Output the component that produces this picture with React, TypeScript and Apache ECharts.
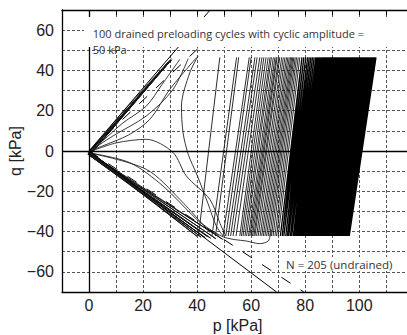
import React, { useEffect, useRef } from "react";
import * as echarts from "echarts";

// ---- axes ----
const xLabelTicks = [0, 20, 40, 60, 80, 100];
const yLabelTicks = [-60, -40, -20, 0, 20, 40, 60];

// ---- drained preloading cycles (turning points) ----
const drainedOrigin = [[0.0, -1.0], [0.4, -0.4], [-0.4, -1.6], [0.2, -2.2], [0.6, -1.2], [-0.2, -0.6], [0.3, -1.8]];
const drainedPeak = [[29.2, 44.0], [29.6, 44.4], [30.0, 44.8], [30.3, 45.0], [29.4, 44.2], [30.6, 45.3], [29.9, 44.6]];
const drainedTrough = [[40.0, -42.4], [41.5, -42.8], [43.0, -43.0], [45.0, -43.3], [47.0, -43.6], [49.4, -43.8], [44.0, -42.6]];

// ---- first undrained cycles (curved paths) ----
const fanUp1 = [[30.5, 46.0], [22.0, 33.5], [13.0, 20.0], [5.0, 7.5], [0.3, 0.0]];
const fanUp2 = [[33.6, 45.5], [27.0, 33.0], [21.2, 22.3], [12.6, 14.0], [5.0, 5.0], [0.3, 0.0]];
const fanUp3 = [[36.7, 45.9], [31.1, 30.6], [21.2, 17.4], [8.9, 7.5], [0.3, 0.0]];
const fanUp4 = [[39.8, 46.4], [29.9, 30.6], [22.5, 15.7], [14.7, 8.0], [5.0, 2.5], [0.3, 0.0]];
const fanLow1 = [[0.0, -0.5], [10.0, 4.0], [21.2, 5.8], [31.0, -0.6], [36.0, -12.4], [44.7, -24.0], [48.5, -36.0], [50.5, -42.0]];
const wavyPath = [[40.4, 47.2], [37.3, 38.9], [34.2, 22.3], [34.8, 9.1], [36.7, -1.6], [40.0, -12.0], [44.0, -26.0], [47.0, -37.0], [49.6, -42.2]];
const fanDown1 = [[0.3, -1.0], [21.2, -9.1], [33.6, -24.0], [44.7, -40.5]];
const fanDown2 = [[0.3, -1.0], [15.1, -5.8], [27.4, -17.4], [39.8, -33.9], [44.7, -38.9], [48.0, -42.0]];
const bottomLoop = [[44.7, -38.9], [49.6, -42.6], [54.0, -44.0], [58.3, -44.7], [63.2, -46.0], [66.3, -44.7], [67.0, -42.2], [67.6, -39.0]];

// ---- undrained cycles: p at peak (q = qPeak) and trough (q = qTrough) ----
const qPeak = 46.5;
const qTrough = -42.2;
const sparseTopP = [
  48.4, 54.6, 55.4, 59.3, 60.0, 61.4, 62.2, 63.2, 64.0, 64.7, 65.5, 66.3, 67.0, 67.5, 68.2,
  68.8, 69.3, 69.6, 70.2, 70.6, 71.3, 71.9, 72.5, 73.1, 73.6, 74.1, 74.6, 75.0, 75.4, 75.8, 76.3, 76.8, 77.4, 78.0,
];
const sparseBotP = [
  40.5, 45.5, 46.8, 49.6, 50.6, 51.5, 52.4, 53.3, 54.4, 55.8, 56.4, 57.0, 57.7, 58.3, 59.0,
  59.5, 60.0, 60.5, 61.0, 61.4, 62.0, 62.6, 63.3, 63.9, 64.5, 65.1, 65.7, 66.3, 66.9, 67.5, 68.1, 68.8, 69.4, 70.0,
];
const denseTopP = [
  78.8, 79.5, 80.2, 80.9, 81.5, 82.1, 82.7, 83.3, 83.9, 84.4, 84.9, 85.4, 85.9, 86.4,
  86.8, 87.2, 87.6, 88.0, 88.4, 88.8, 89.2, 89.6, 90.0, 90.4, 90.8, 91.2, 91.6, 92.0, 92.4, 92.8,
  93.2, 93.6, 94.0, 94.4, 94.8, 95.2, 95.6, 96.0, 96.4, 96.8, 97.2, 97.6, 98.0, 98.4, 98.8, 99.2,
  99.6, 100.0, 100.4, 100.8, 101.2, 101.6, 102.0, 102.4, 102.8, 103.2, 103.6, 104.0, 104.4, 104.8,
  105.2, 105.6, 106.0, 106.2,
];
const denseBotP = [
  70.8, 71.5, 72.1, 72.8, 73.4, 73.9, 74.5, 75.0, 75.6, 76.0, 76.5, 76.9, 77.4, 77.8,
  78.2, 78.6, 78.9, 79.3, 79.7, 80.0, 80.4, 80.8, 81.2, 81.5, 81.9, 82.3, 82.6, 83.0, 83.4, 83.8,
  84.1, 84.5, 84.9, 85.3, 85.6, 86.0, 86.4, 86.7, 87.1, 87.5, 87.9, 88.2, 88.6, 89.0, 89.3, 89.7,
  90.1, 90.5, 90.8, 91.2, 91.6, 92.0, 92.3, 92.7, 93.1, 93.4, 93.8, 94.2, 94.6, 94.9,
  95.3, 95.7, 96.1, 96.3,
];

// ---- limit lines (end points) ----
const solidLimit = [[[0, 0], [44.8, 70]], [[0, 0], [69.4, -70]]];
const dashedLimit = [[[0, 0], [55.5, 70]], [[0, 0], [79.5, -70]]];

const BREAK: any = ["-", "-"];

function joinSegments(segs: number[][][]) {
  const out: any[] = [];
  segs.forEach((s, i) => {
    if (i > 0) out.push(BREAK);
    s.forEach((p) => out.push(p));
  });
  return out;
}

function buildDrained() {
  const out: number[][] = [];
  for (let i = 0; i < drainedOrigin.length; i++) {
    out.push(drainedOrigin[i], drainedPeak[i], drainedOrigin[i], drainedTrough[i]);
  }
  out.push(drainedOrigin[0]);
  return out;
}

function buildSparse() {
  const segs: number[][][] = [];
  for (let i = 0; i < sparseTopP.length; i++) {
    segs.push([[sparseBotP[i], qTrough], [sparseTopP[i], qPeak]]);
  }
  return joinSegments(segs);
}

function buildDense() {
  const out: number[][] = [];
  for (let i = 0; i < denseTopP.length; i++) {
    out.push([denseBotP[i], qTrough], [denseTopP[i], qPeak]);
  }
  return out;
}

const minus = (v: number) => String(v).replace("-", "\u2212");
const LINE = "#161616";

export default function App() {
  const ref = useRef<HTMLDivElement>(null);
  useEffect(() => {
    if (!ref.current) return;
    const chart = echarts.init(ref.current, undefined, { renderer: "svg" });
    const grid = { color: "#555", width: 1, type: [3, 2] as any };
    chart.setOption({
      animation: false,
      backgroundColor: "#fff",
      grid: { left: 62, top: 10, right: -6.3, bottom: 43, outerBoundsMode: "none", containLabel: false },
      xAxis: [
        {
          type: "value", min: -10, max: 120, interval: 10, position: "bottom",
          name: "p [kPa]", nameLocation: "middle", nameGap: 25, nameMoveOverlap: false,
          nameTextStyle: { fontSize: 16, color: "#222", fontFamily: "Liberation Sans" },
          axisLine: { show: true, onZero: false, lineStyle: { color: "#000", width: 1.3 } },
          axisTick: { show: false },
          splitLine: { show: true, lineStyle: grid },
          axisLabel: {
            margin: 5, fontSize: 16, color: "#222", fontFamily: "Liberation Sans",
            formatter: (v: number) => (xLabelTicks.includes(v) ? minus(v) : ""),
          },
        },
        {
          type: "value", min: -10, max: 120, interval: 10, position: "top",
          axisLine: { show: true, onZero: false, lineStyle: { color: "#000", width: 1.3 } },
          axisTick: { show: true, inside: true, length: 5, lineStyle: { color: "#000", width: 1 } },
          axisLabel: { show: false }, splitLine: { show: false },
        },
      ],
      yAxis: {
        type: "value", min: -70, max: 70, interval: 10,
        name: "q [kPa]", nameLocation: "middle", nameGap: 39, nameMoveOverlap: false,
        nameTextStyle: { fontSize: 16, color: "#222", fontFamily: "Liberation Sans" },
        axisLine: { show: true, onZero: false, lineStyle: { color: "#000", width: 1.3 } },
        axisTick: { show: false },
        splitLine: { show: true, lineStyle: grid },
        axisLabel: {
          margin: 8, fontSize: 16, color: "#222", fontFamily: "Liberation Sans",
          formatter: (v: number) => (yLabelTicks.includes(v) ? minus(v) : ""),
        },
      },
      series: [
        {
          type: "line", name: "zero", data: [], silent: true,
          markLine: {
            silent: true, symbol: ["none", "none"], label: { show: false },
            lineStyle: { color: "#000", width: 1.3, type: "solid" },
            data: [{ xAxis: 0 }, { yAxis: 0 }],
          },
        },
        {
          type: "line", name: "drained", data: buildDrained(), showSymbol: false, symbol: "none",
          lineStyle: { color: LINE, width: 1 }, silent: true,
        },
        {
          type: "line", name: "fan", showSymbol: false, symbol: "none", smooth: 0.3, silent: true,
          data: joinSegments([fanUp1, fanUp2, fanUp3, fanUp4, fanLow1, wavyPath, fanDown1, fanDown2, bottomLoop]),
          lineStyle: { color: "#222", width: 0.9 },
        },
        {
          type: "line", name: "sparse", data: buildSparse(), showSymbol: false, symbol: "none", silent: true,
          lineStyle: { color: LINE, width: 0.9 },
        },
        {
          type: "line", name: "dense", data: buildDense(), showSymbol: false, symbol: "none", silent: true,
          lineStyle: { color: "#000", width: 1.3 },
        },
        {
          type: "line", name: "solidLimit", data: joinSegments(solidLimit), showSymbol: false, symbol: "none", silent: true,
          lineStyle: { color: "#000", width: 1 },
        },
        {
          type: "line", name: "dashedLimit", data: joinSegments(dashedLimit), showSymbol: false, symbol: "none", silent: true,
          lineStyle: { color: "#000", width: 1, type: [11, 12] },
        },
      ],
      graphic: [
        { type: "rect", z: 100, shape: { x: 84, y: 17, width: 330, height: 30 }, style: { fill: "#fff" } },
        {
          type: "text", z: 101, x: 92.7, y: 33,
          style: { text: "100 drained preloading cycles with cyclic amplitude =", fontSize: 11, fontFamily: "Open Sans", fill: "#333", verticalAlign: "middle" },
        },
        {
          type: "text", z: 101, x: 92.7, y: 49,
          style: { text: "50 kPa", fontSize: 11, fontFamily: "Open Sans", fill: "#333", verticalAlign: "middle" },
        },
        {
          type: "text", z: 101, x: 285, y: 264,
          style: { text: "N = 205 (undrained)", fontSize: 11.5, fontFamily: "Open Sans", fill: "#333", verticalAlign: "middle", backgroundColor: "#fff", padding: [1, 1] },
        },
      ],
    });
    return () => chart.dispose();
  }, []);
  return <div ref={ref} style={{ position: "fixed", left: 0, top: 0, width: 407, height: 335 }} />;
}
